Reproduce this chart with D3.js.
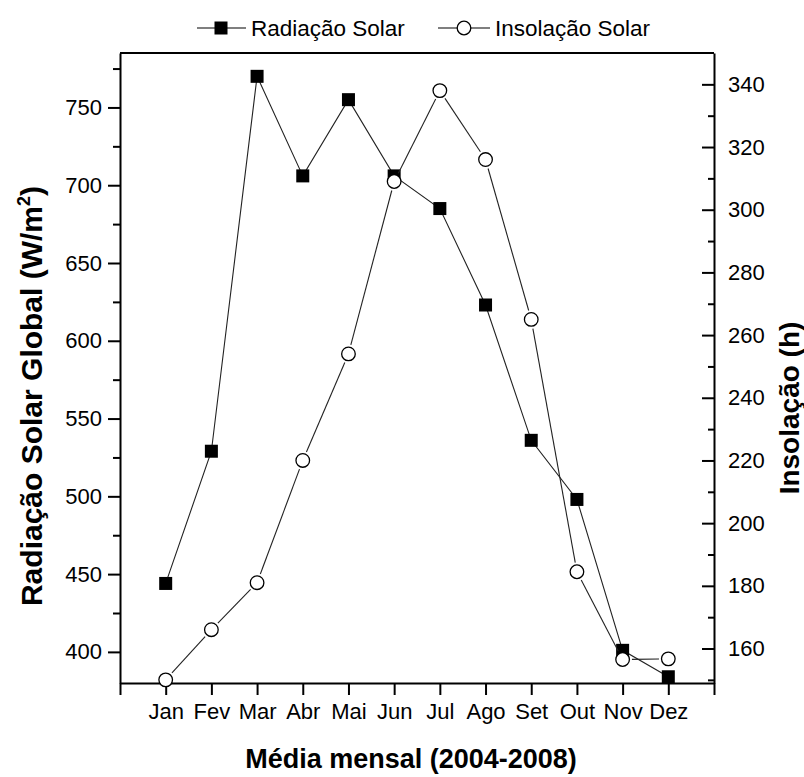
<!DOCTYPE html>
<html>
<head>
<meta charset="utf-8">
<script src="https://cdnjs.cloudflare.com/ajax/libs/d3/7.8.5/d3.min.js"></script>
<style>
  body { margin: 0; background: #fff; }
  text { font-family: "Liberation Sans", Arial, sans-serif; fill: #000; }
</style>
</head>
<body>
<script>
// monthly means 2004-2008
var months = ["Jan", "Fev", "Mar", "Abr", "Mai", "Jun", "Jul", "Ago", "Set", "Out", "Nov", "Dez"];
var radiacao = [444, 529, 770, 706, 755, 706, 685, 623, 536, 498, 401, 384];
var insolacao = [150, 166, 181, 220, 254, 309, 338, 316, 265, 184.5, 156.5, 156.7];
var leftTicks = [400, 450, 500, 550, 600, 650, 700, 750];
var rightTicks = [160, 180, 200, 220, 240, 260, 280, 300, 320, 340];

var w = 804;
var h = 777;
// plot box (note: "top" is taken by window.top, so use m*)
var mLeft = 120, mRight = 714, mTop = 53, mBottom = 683;

var svg = d3.select("body").append("svg")
    .attr("width", w)
    .attr("height", h);

var x = d3.scaleLinear().domain([0, 13]).range([mLeft, mRight]);
var yL = d3.scaleLinear().domain([380, 785]).range([mBottom, mTop]);
var yR = d3.scaleLinear().domain([149, 350]).range([mBottom, mTop]);

// left axis, ticks outside, minor ticks in between
var minorL = leftTicks.map(function(d) { return d + 25; });
svg.append("g")
    .attr("transform", "translate(" + mLeft + ",0)")
    .call(d3.axisLeft(yL).tickValues(minorL).tickSize(7).tickFormat(""))
    .call(function(g) { g.select(".domain").remove(); });
svg.append("g")
    .attr("class", "axis")
    .attr("transform", "translate(" + mLeft + ",0)")
    .call(d3.axisLeft(yL).tickValues(leftTicks).tickSize(12).tickSizeOuter(0).tickPadding(6));

// right axis, ticks pointing in
var minorR = rightTicks.map(function(d) { return d - 10; }).concat([350]);
svg.append("g")
    .attr("transform", "translate(" + mRight + ",0)")
    .call(d3.axisRight(yR).tickValues(minorR.filter(function(d) { return d > 149 && d < 350; })).tickSize(-6).tickFormat(""))
    .call(function(g) { g.select(".domain").remove(); });
svg.append("g")
    .attr("class", "axis")
    .attr("transform", "translate(" + mRight + ",0)")
    .call(d3.axisRight(yR).tickValues(rightTicks).tickSize(-12).tickSizeOuter(0).tickPadding(14));

// bottom axis: ticks at 0..13, labels only on the months
svg.append("g")
    .attr("class", "axis")
    .attr("transform", "translate(0," + mBottom + ")")
    .call(d3.axisBottom(x).tickValues(d3.range(0, 14)).tickSize(12).tickSizeOuter(0).tickPadding(8)
        .tickFormat(function(d) { return months[d - 1] || ""; }));

// top frame line
svg.append("line")
    .attr("x1", mLeft).attr("x2", mRight)
    .attr("y1", mTop).attr("y2", mTop)
    .attr("stroke", "#000").attr("stroke-width", 2);

svg.selectAll("g.tick line").attr("stroke", "#000").attr("stroke-width", 2);
svg.selectAll(".domain").attr("stroke", "#000").attr("stroke-width", 2);
svg.selectAll(".axis text").style("font-size", "22px").style("font-family", "Liberation Sans, Arial, sans-serif");

// radiacao line + squares
var line1 = d3.line()
    .x(function(d, i) { return x(i + 1); })
    .y(function(d) { return yL(d); });
svg.append("path")
    .attr("d", line1(radiacao))
    .attr("fill", "none")
    .attr("stroke", "#222")
    .attr("stroke-width", 1.1);

var sq = 13;
svg.selectAll("rect.rad")
    .data(radiacao)
    .enter()
    .append("rect")
    .attr("class", "rad")
    .attr("x", function(d, i) { return x(i + 1) - sq / 2; })
    .attr("y", function(d) { return yL(d) - sq / 2; })
    .attr("width", sq)
    .attr("height", sq)
    .attr("fill", "#000");

// insolacao: segments stop short of the open circles
var r = 6.8;
var gap = r + 2.5;
var pts = insolacao.map(function(d, i) { return [x(i + 1), yR(d)]; });
var segs = d3.pairs(pts);
svg.selectAll("line.ins")
    .data(segs)
    .enter()
    .append("line")
    .attr("class", "ins")
    .each(function(s) {
        var dx = s[1][0] - s[0][0], dy = s[1][1] - s[0][1];
        var len = Math.sqrt(dx * dx + dy * dy);
        var ux = dx / len, uy = dy / len;
        d3.select(this)
            .attr("x1", s[0][0] + ux * gap).attr("y1", s[0][1] + uy * gap)
            .attr("x2", s[1][0] - ux * gap).attr("y2", s[1][1] - uy * gap);
    })
    .attr("stroke", "#222")
    .attr("stroke-width", 1.1);

svg.selectAll("circle.ins")
    .data(insolacao)
    .enter()
    .append("circle")
    .attr("class", "ins")
    .attr("cx", function(d, i) { return x(i + 1); })
    .attr("cy", function(d) { return yR(d); })
    .attr("r", r)
    .attr("fill", "#fff")
    .attr("stroke", "#000")
    .attr("stroke-width", 1.3);

// legend
var leg = svg.append("g");
leg.append("line").attr("x1", 197).attr("x2", 246).attr("y1", 28).attr("y2", 28)
    .attr("stroke", "#000").attr("stroke-width", 1.2);
leg.append("rect").attr("x", 221 - sq / 2).attr("y", 28 - sq / 2).attr("width", sq).attr("height", sq);
leg.append("text").attr("x", 251).attr("y", 36).style("font-size", "22.5px").text("Radiação Solar");
leg.append("line").attr("x1", 438).attr("x2", 490).attr("y1", 28).attr("y2", 28)
    .attr("stroke", "#000").attr("stroke-width", 1.2);
leg.append("circle").attr("cx", 464).attr("cy", 28).attr("r", r)
    .attr("fill", "#fff").attr("stroke", "#000").attr("stroke-width", 1.3);
leg.append("text").attr("x", 495).attr("y", 36).style("font-size", "22.5px").text("Insolação Solar");

// axis titles
var t1 = svg.append("text")
    .attr("transform", "translate(42," + 396 + ") rotate(-90)")
    .attr("text-anchor", "middle")
    .style("font-size", "30px")
    .style("font-weight", "bold")
    .text("Radiação Solar Global (W/m");
t1.append("tspan").attr("dy", -12).style("font-size", "18px").text("2");
t1.append("tspan").attr("dy", 12).text(")");

svg.append("text")
    .attr("transform", "translate(799,408) rotate(-90)")
    .attr("text-anchor", "middle")
    .style("font-size", "28px")
    .style("font-weight", "bold")
    .text("Insolação (h)");

svg.append("text")
    .attr("x", 411)
    .attr("y", 768)
    .attr("text-anchor", "middle")
    .style("font-size", "27px")
    .style("font-weight", "bold")
    .text("Média mensal (2004-2008)");
</script>
</body>
</html>
